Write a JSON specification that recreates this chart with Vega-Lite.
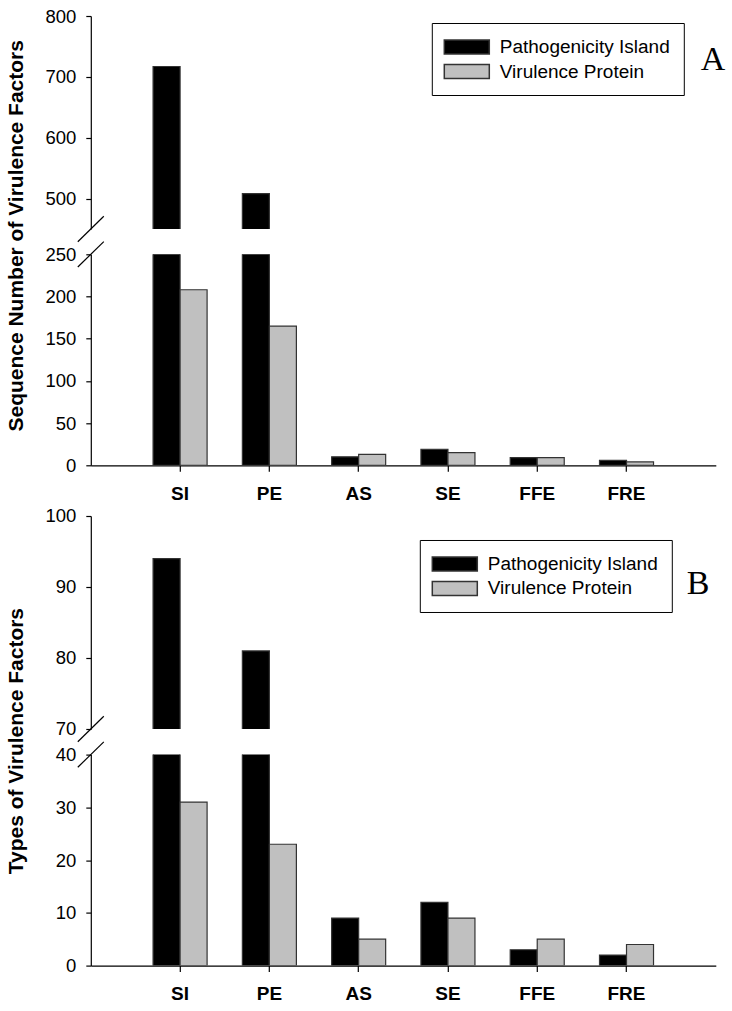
{
  "$schema": "https://vega.github.io/schema/vega-lite/v6.json",
  "padding": {"left": 4.8, "top": 7, "right": 0, "bottom": 0},
  "background": "white",
  "datasets": {
    "seq": [
      {"cat": "SI", "series": "Pathogenicity Island", "value": 717},
      {"cat": "SI", "series": "Virulence Protein", "value": 208},
      {"cat": "PE", "series": "Pathogenicity Island", "value": 508},
      {"cat": "PE", "series": "Virulence Protein", "value": 165},
      {"cat": "AS", "series": "Pathogenicity Island", "value": 10},
      {"cat": "AS", "series": "Virulence Protein", "value": 13},
      {"cat": "SE", "series": "Pathogenicity Island", "value": 19},
      {"cat": "SE", "series": "Virulence Protein", "value": 15},
      {"cat": "FFE", "series": "Pathogenicity Island", "value": 9},
      {"cat": "FFE", "series": "Virulence Protein", "value": 9},
      {"cat": "FRE", "series": "Pathogenicity Island", "value": 6},
      {"cat": "FRE", "series": "Virulence Protein", "value": 4}
    ],
    "types": [
      {"cat": "SI", "series": "Pathogenicity Island", "value": 94},
      {"cat": "SI", "series": "Virulence Protein", "value": 31},
      {"cat": "PE", "series": "Pathogenicity Island", "value": 81},
      {"cat": "PE", "series": "Virulence Protein", "value": 23},
      {"cat": "AS", "series": "Pathogenicity Island", "value": 9},
      {"cat": "AS", "series": "Virulence Protein", "value": 5},
      {"cat": "SE", "series": "Pathogenicity Island", "value": 12},
      {"cat": "SE", "series": "Virulence Protein", "value": 9},
      {"cat": "FFE", "series": "Pathogenicity Island", "value": 3},
      {"cat": "FFE", "series": "Virulence Protein", "value": 5},
      {"cat": "FRE", "series": "Pathogenicity Island", "value": 2},
      {"cat": "FRE", "series": "Virulence Protein", "value": 4}
    ]
  },
  "config": {
    "view": {"stroke": null},
    "axis": {
      "grid": false,
      "domainColor": "#000",
      "domainWidth": 1.2,
      "tickColor": "#000",
      "tickWidth": 1.2,
      "tickSize": 5,
      "labelPadding": 10,
      "labelColor": "#000",
      "labelFont": "Liberation Sans",
      "labelFontSize": 18.5,
      "titleFont": "Liberation Sans",
      "titleFontSize": 21,
      "titleFontWeight": "bold",
      "titleColor": "#000"
    },
    "legend": {
      "orient": "none", "title": null, "direction": "vertical",
      "strokeColor": "#000", "fillColor": "white", "padding": 13,
      "symbolType": "M-2.25,-0.7H2.25V0.7H-2.25Z", "symbolSize": 400,
      "symbolOffset": 11,
      "symbolStrokeColor": "#333", "symbolStrokeWidth": 1.5, "symbolOpacity": 1,
      "labelFont": "Liberation Sans", "labelFontSize": 19, "labelColor": "#000",
      "labelOffset": 22, "labelLimit": 300, "rowPadding": 3.5
    }
  },
  "spacing": 3,
  "resolve": {"scale": {"color": "independent"}, "legend": {"color": "independent"}},
  "vconcat": [
    {
      "bounds": "flush",
      "spacing": 25.3,
      "resolve": {"scale": {"color": "independent"}, "legend": {"color": "independent"}},
      "vconcat": [
        {
          "width": 625,
          "height": 213,
          "data": {"name": "seq"},
          "layer": [
            {
              "mark": {"type": "bar", "clip": true, "stroke": "#333", "strokeWidth": 1.2},
              "encoding": {
                "x": {"field": "cat", "type": "nominal", "scale": {"domain": ["SI", "PE", "AS", "SE", "FFE", "FRE"], "paddingInner": 0.395, "paddingOuter": 0.6975}, "axis": null},
                "xOffset": {"field": "series", "type": "nominal", "scale": {"domain": ["Pathogenicity Island", "Virulence Protein"]}},
                "y": {"field": "value", "type": "quantitative", "scale": {"domain": [450, 800], "nice": false, "zero": false}, "axis": {"values": [500, 600, 700, 800], "title": null}},
                "y2": {"datum": 0},
                "color": {
                  "field": "series", "type": "nominal",
                  "scale": {"domain": ["Pathogenicity Island", "Virulence Protein"], "range": ["#000000", "#c0c0c0"]},
                  "legend": {"orient": "none", "legendX": 341, "legendY": 7}
                }
              }
            },
            {
              "data": {"values": [{}]},
              "mark": {"type": "rule", "clip": false, "color": "#000", "strokeWidth": 1.2},
              "encoding": {"x": {"value": -13}, "x2": {"value": 13}, "y": {"datum": 429}, "y2": {"datum": 471}}
            },
            {
              "data": {"values": [{}]},
              "mark": {"type": "text", "text": "A", "font": "Liberation Serif", "fontSize": 34, "color": "#000", "align": "center", "baseline": "alphabetic", "dx": 86.5},
              "encoding": {"x": {"datum": "FRE"}, "y": {"datum": 712}}
            }
          ]
        },
        {
          "width": 625,
          "height": 211,
          "data": {"name": "seq"},
          "layer": [
            {
              "mark": {"type": "bar", "clip": true, "stroke": "#333", "strokeWidth": 1.2},
              "encoding": {
                "x": {"field": "cat", "type": "nominal", "scale": {"domain": ["SI", "PE", "AS", "SE", "FFE", "FRE"], "paddingInner": 0.395, "paddingOuter": 0.6975}, "axis": {"title": null, "labelAngle": 0, "labelFontWeight": "bold", "labelFontSize": 19, "tickSize": 6, "labelPadding": 13}},
                "xOffset": {"field": "series", "type": "nominal", "scale": {"domain": ["Pathogenicity Island", "Virulence Protein"]}},
                "y": {"field": "value", "type": "quantitative", "scale": {"domain": [0, 250], "nice": false}, "axis": {"values": [0, 50, 100, 150, 200, 250], "title": "Sequence Number of Virulence Factors", "titleX": -68, "titleY": -19, "titleAngle": 270, "titleBaseline": "alphabetic", "titleAlign": "center"}},
                "y2": {"datum": 0},
                "color": {
                  "field": "series", "type": "nominal",
                  "scale": {"domain": ["Pathogenicity Island", "Virulence Protein"], "range": ["#000000", "#c0c0c0"]},
                  "legend": null
                }
              }
            },
            {
              "data": {"values": [{}]},
              "mark": {"type": "rule", "clip": false, "color": "#000", "strokeWidth": 1.2},
              "encoding": {"x": {"value": -13}, "x2": {"value": 13}, "y": {"datum": 235}, "y2": {"datum": 265}}
            }
          ]
        }
      ]
    },
    {
      "bounds": "flush",
      "spacing": 25.6,
      "resolve": {"scale": {"color": "independent"}, "legend": {"color": "independent"}},
      "vconcat": [
        {
          "width": 625,
          "height": 213,
          "data": {"name": "types"},
          "layer": [
            {
              "mark": {"type": "bar", "clip": true, "stroke": "#333", "strokeWidth": 1.2},
              "encoding": {
                "x": {"field": "cat", "type": "nominal", "scale": {"domain": ["SI", "PE", "AS", "SE", "FFE", "FRE"], "paddingInner": 0.395, "paddingOuter": 0.6975}, "axis": null},
                "xOffset": {"field": "series", "type": "nominal", "scale": {"domain": ["Pathogenicity Island", "Virulence Protein"]}},
                "y": {"field": "value", "type": "quantitative", "scale": {"domain": [70, 100], "nice": false, "zero": false}, "axis": {"values": [70, 80, 90, 100], "title": null}},
                "y2": {"datum": 0},
                "color": {
                  "field": "series", "type": "nominal",
                  "scale": {"domain": ["Pathogenicity Island", "Virulence Protein"], "range": ["#000000", "#c0c0c0"]},
                  "legend": {"orient": "none", "legendX": 329, "legendY": 24}
                }
              }
            },
            {
              "data": {"values": [{}]},
              "mark": {"type": "rule", "clip": false, "color": "#000", "strokeWidth": 1.2},
              "encoding": {"x": {"value": -13}, "x2": {"value": 13}, "y": {"datum": 68.2}, "y2": {"datum": 71.8}}
            },
            {
              "data": {"values": [{}]},
              "mark": {"type": "text", "text": "B", "font": "Liberation Serif", "fontSize": 34, "color": "#000", "align": "center", "baseline": "alphabetic", "dx": 71.5},
              "encoding": {"x": {"datum": "FRE"}, "y": {"datum": 89}}
            }
          ]
        },
        {
          "width": 625,
          "height": 211,
          "data": {"name": "types"},
          "layer": [
            {
              "mark": {"type": "bar", "clip": true, "stroke": "#333", "strokeWidth": 1.2},
              "encoding": {
                "x": {"field": "cat", "type": "nominal", "scale": {"domain": ["SI", "PE", "AS", "SE", "FFE", "FRE"], "paddingInner": 0.395, "paddingOuter": 0.6975}, "axis": {"title": null, "labelAngle": 0, "labelFontWeight": "bold", "labelFontSize": 19, "tickSize": 6, "labelPadding": 13}},
                "xOffset": {"field": "series", "type": "nominal", "scale": {"domain": ["Pathogenicity Island", "Virulence Protein"]}},
                "y": {"field": "value", "type": "quantitative", "scale": {"domain": [0, 40], "nice": false}, "axis": {"values": [0, 10, 20, 30, 40], "title": "Types of Virulence Factors", "titleX": -68, "titleY": -14, "titleAngle": 270, "titleBaseline": "alphabetic", "titleAlign": "center"}},
                "y2": {"datum": 0},
                "color": {
                  "field": "series", "type": "nominal",
                  "scale": {"domain": ["Pathogenicity Island", "Virulence Protein"], "range": ["#000000", "#c0c0c0"]},
                  "legend": null
                }
              }
            },
            {
              "data": {"values": [{}]},
              "mark": {"type": "rule", "clip": false, "color": "#000", "strokeWidth": 1.2},
              "encoding": {"x": {"value": -13}, "x2": {"value": 13}, "y": {"datum": 37.6}, "y2": {"datum": 42.4}}
            }
          ]
        }
      ]
    }
  ]
}
